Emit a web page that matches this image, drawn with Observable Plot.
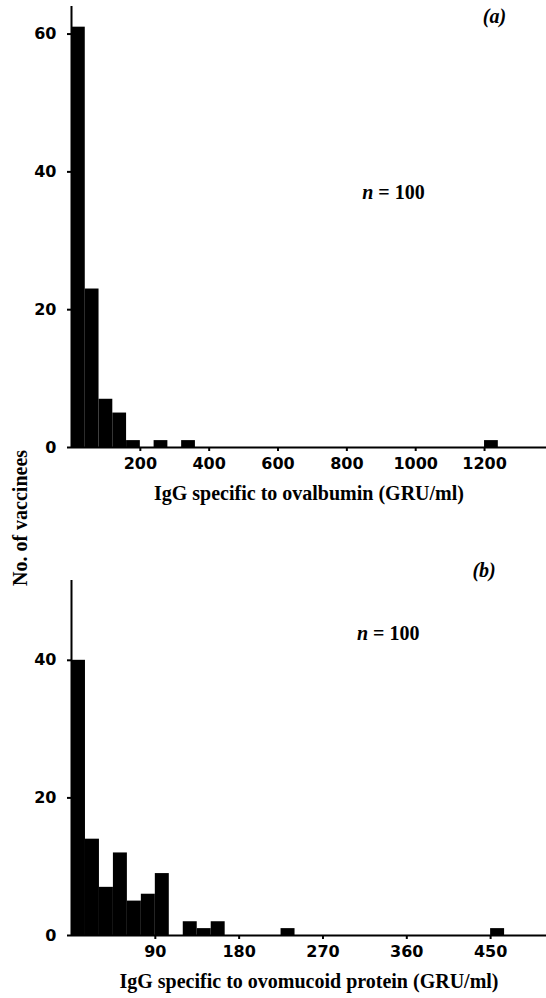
<!DOCTYPE html>
<html>
<head>
<meta charset="utf-8">
<script src="https://cdn.jsdelivr.net/npm/d3@7"></script>
<script src="https://cdn.jsdelivr.net/npm/@observablehq/plot@0.6"></script>
<style>
  html, body { margin: 0; padding: 0; background: #fff; }
  #wrap { position: relative; width: 546px; height: 998px; }
  #wrap svg { display: block; }
  #ylab { position: absolute; left: 0; top: 0; pointer-events: none; }
</style>
</head>
<body>
<div id="wrap"></div>
<script>
// ---- Panel (a): IgG specific to ovalbumin, bins of 40 GRU/ml ----
const aBinStarts = [0, 40, 80, 120, 160, 240, 320, 1200];
const aCounts    = [61, 23, 7, 5, 1, 1, 1, 1];
const aBinWidth  = 40;
const aTicksX    = [200, 400, 600, 800, 1000, 1200];
const aTicksY    = [0, 20, 40, 60];
const aTitle     = "IgG specific to ovalbumin (GRU/ml)";
const aTag       = "(a)";

// ---- Panel (b): IgG specific to ovomucoid protein, bins of 15 GRU/ml ----
const bBinStarts = [0, 15, 30, 45, 60, 75, 90, 120, 135, 150, 225, 450];
const bCounts    = [40, 14, 7, 12, 5, 6, 9, 2, 1, 2, 1, 1];
const bBinWidth  = 15;
const bTicksX    = [90, 180, 270, 360, 450];
const bTicksY    = [0, 20, 40];
const bTitle     = "IgG specific to ovomucoid protein (GRU/ml)";
const bTag       = "(b)";

const nLabel = "n";
const nValue = "= 100";
const yTitle = "No. of vaccinees";

const SERIF = "'Liberation Serif', 'DejaVu Serif', serif";
const SANS = "'DejaVu Sans', sans-serif";
const plain = d => String(d);

function toBins(starts, counts, w) {
  return starts.map((s, i) => ({x0: s, x1: s + w, count: counts[i]}));
}

function panel({data, xDomain, yDomain, ticksX, ticksY, height, marginTop, marginBottom,
                title, tag, tagX, tagY, nX, nY}) {
  return Plot.plot({
    width: 546,
    height,
    marginLeft: 71,
    marginRight: 0,
    marginTop,
    marginBottom,
    x: {domain: xDomain},
    y: {domain: yDomain},
    style: {background: "#fff", color: "#000", overflow: "visible"},
    marks: [
      Plot.rectY(data, {x1: "x0", x2: "x1", y: "count", fill: "#000", inset: 0}),
      Plot.ruleX([0], {stroke: "#000", strokeWidth: 2}),
      Plot.ruleY([0], {stroke: "#000", strokeWidth: 2}),
      Plot.axisX({ticks: ticksX, tickFormat: plain, tickSize: 4, tickPadding: 6, label: null,
                  fontSize: 16, fontFamily: SANS, fontWeight: "bold", strokeWidth: 2}),
      Plot.axisY({ticks: ticksY, tickFormat: plain, tickSize: 4, tickPadding: 11, label: null,
                  fontSize: 16, fontFamily: SANS, fontWeight: "bold", strokeWidth: 2}),
      Plot.text([title], {frameAnchor: "bottom", dy: 46, fontSize: 20,
                          fontFamily: SERIF, fontWeight: "bold", lineAnchor: "middle"}),
      Plot.text([tag], {x: tagX, y: tagY, fontSize: 20, fontFamily: SERIF,
                        fontWeight: "bold", fontStyle: "italic", lineAnchor: "middle"}),
      Plot.text([nLabel], {x: nX, y: nY, textAnchor: "end", dx: -21, fontSize: 20,
                           fontFamily: SERIF, fontWeight: "bold", fontStyle: "italic",
                           lineAnchor: "bottom"}),
      Plot.text([nValue], {x: nX, y: nY, textAnchor: "start", dx: -16, fontSize: 20,
                           fontFamily: SERIF, fontWeight: "bold", lineAnchor: "bottom"})
    ]
  });
}

const wrap = document.getElementById("wrap");

wrap.append(panel({
  data: toBins(aBinStarts, aCounts, aBinWidth),
  xDomain: [0, 1380], yDomain: [0, 64],
  ticksX: aTicksX, ticksY: aTicksY,
  height: 490, marginTop: 6, marginBottom: 43,
  title: aTitle, tag: aTag, tagX: 1229, tagY: 62.5, nX: 938, nY: 36
}));

wrap.append(panel({
  data: toBins(bBinStarts, bCounts, bBinWidth),
  xDomain: [0, 510], yDomain: [0, 51.6],
  ticksX: bTicksX, ticksY: bTicksY,
  height: 508, marginTop: 90, marginBottom: 63,
  title: bTitle, tag: bTag, tagX: 443, tagY: 53, nX: 341, nY: 43
}));

// shared y-axis title, spanning both panels
const ov = d3.select(wrap).append("svg")
  .attr("id", "ylab").attr("width", 546).attr("height", 998);
ov.append("text")
  .attr("transform", "translate(20,518) rotate(-90)")
  .attr("text-anchor", "middle")
  .attr("dominant-baseline", "central")
  .attr("font-family", SERIF)
  .attr("font-weight", "bold")
  .attr("font-size", 20)
  .text(yTitle);
</script>
</body>
</html>
